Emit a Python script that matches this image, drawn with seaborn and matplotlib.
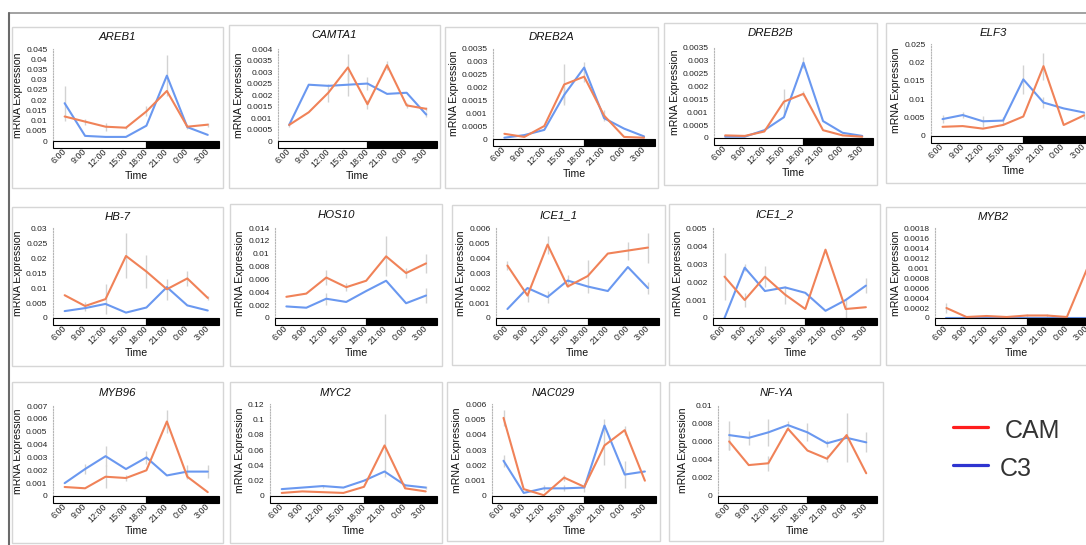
import numpy as np
import pandas as pd
import matplotlib
matplotlib.use('Agg')
import matplotlib.pyplot as plt
import matplotlib.transforms as mtransforms
from matplotlib.patches import Rectangle
from matplotlib.lines import Line2D
from matplotlib.ticker import MultipleLocator, FuncFormatter
import seaborn as sns

# ================= DATA =================
times = ["6:00", "9:00", "12:00", "15:00", "18:00", "21:00", "0:00", "3:00"]

areb1_cam = [0.012, 0.0095, 0.007, 0.0065, 0.0145, 0.0245, 0.007, 0.008]
areb1_c3 = [0.0185, 0.0025, 0.002, 0.002, 0.0075, 0.032, 0.0068, 0.003]
areb1_cam_err = [0, 0.0015, 0.002, 0.0008, 0.0025, 0, 0.001, 0.001]
areb1_c3_err = [0.0085, 0, 0, 0, 0, 0.01, 0, 0]

camta1_cam = [0.0007, 0.00125, 0.0021, 0.0032, 0.0016, 0.0033, 0.00155, 0.0014]
camta1_c3 = [0.0007, 0.00245, 0.0024, 0.00245, 0.0025, 0.00205, 0.0021, 0.00115]
camta1_cam_err = [0.0001, 0, 0.0004, 0.0006, 0.0002, 0.0002, 0.0001, 0.0001]
camta1_c3_err = [0, 0, 0, 0.0005, 0.0003, 0, 0, 0.0001]

dreb2a_cam = [0.0002, 0.00008, 0.0005, 0.0021, 0.0024, 0.0009, 0.00008, 0.00005]
dreb2a_c3 = [0.00005, 0.00015, 0.00035, 0.0017, 0.00275, 0.0008, 0.0004, 0.0001]
dreb2a_cam_err = [0, 0, 0, 0.0008, 0.0002, 0.0002, 0, 0]
dreb2a_c3_err = [0, 0, 0, 0.0003, 0.0002, 0, 0, 0]

dreb2b_cam = [0.0001, 0.00008, 0.00025, 0.0014, 0.0017, 0.0003, 0.0001, 0.00005]
dreb2b_c3 = [0.00005, 0.00005, 0.0003, 0.0008, 0.0029, 0.00065, 0.0002, 0.00008]
dreb2b_cam_err = [0, 0, 0, 0.0005, 0.0001, 0, 0, 0]
dreb2b_c3_err = [0, 0, 0, 0, 0.0002, 0, 0, 0]

elf3_cam = [0.0025, 0.0027, 0.002, 0.003, 0.0053, 0.019, 0.003, 0.0056]
elf3_c3 = [0.0046, 0.0057, 0.004, 0.0042, 0.0154, 0.0091, 0.0075, 0.0064]
elf3_cam_err = [0, 0, 0, 0, 0, 0.0037, 0, 0.001]
elf3_c3_err = [0.001, 0.0008, 0.0015, 0.001, 0.004, 0.0015, 0, 0]

hb7_cam = [0.0076, 0.004, 0.0063, 0.0207, 0.0155, 0.0096, 0.0132, 0.0067]
hb7_c3 = [0.0023, 0.0033, 0.0047, 0.0018, 0.0035, 0.0103, 0.0042, 0.0025]
hb7_cam_err = [0, 0.0015, 0.005, 0.0075, 0.0055, 0.0035, 0.0025, 0.0008]
hb7_c3_err = [0, 0, 0, 0, 0, 0, 0, 0]

hos10_cam = [0.0033, 0.0038, 0.0063, 0.0048, 0.0058, 0.0096, 0.007, 0.0085]
hos10_c3 = [0.0018, 0.0016, 0.003, 0.0025, 0.0042, 0.0058, 0.0023, 0.0035]
hos10_cam_err = [0, 0, 0.0011, 0.0006, 0, 0.0031, 0.0008, 0.0015]
hos10_c3_err = [0, 0, 0.0009, 0, 0, 0, 0, 0.0011]

ice1_1_cam = [0.0035, 0.0015, 0.0049, 0.0021, 0.0028, 0.0043, 0.0045, 0.0047]
ice1_1_c3 = [0.0006, 0.002, 0.0014, 0.0025, 0.0021, 0.0018, 0.0034, 0.002]
ice1_1_cam_err = [0.0003, 0.0004, 0.0006, 0, 0.0011, 0, 0.0006, 0.001]
ice1_1_c3_err = [0, 0, 0.0004, 0.0004, 0, 0, 0, 0.0004]

ice1_2_cam = [0.0023, 0.001, 0.0023, 0.0013, 0.0005, 0.0038, 0.0005, 0.0006]
ice1_2_c3 = [0.0, 0.0028, 0.0015, 0.0017, 0.0014, 0.0004, 0.001, 0.0018]
ice1_2_cam_err = [0.0013, 0.0004, 0.0006, 0.0005, 0, 0, 0.0005, 0]
ice1_2_c3_err = [0, 0.0002, 0, 0, 0, 0, 0, 0.0004]

myb2_cam = [0.0002, 0.00002, 0.00004, 0.00002, 0.00005, 0.00005, 0.00002, 0.00098]
myb2_c3 = [0.00001, 0.00001, 0.00001, 0.00001, 0.00001, 0.00001, 0.00001, 0.00001]
myb2_cam_err = [0.0001, 0, 0.00003, 0, 0.00003, 0.00003, 0, 0.0006]
myb2_c3_err = [0, 0, 0, 0, 0, 0, 0, 0]

myb96_cam = [0.0007, 0.0006, 0.0015, 0.0014, 0.002, 0.0058, 0.0015, 0.0003]
myb96_c3 = [0.001, 0.0021, 0.0031, 0.0021, 0.003, 0.0016, 0.0019, 0.0019]
myb96_cam_err = [0, 0, 0.0009, 0.0002, 0, 0.0009, 0.0002, 0]
myb96_c3_err = [0, 0.0004, 0.0008, 0, 0.0005, 0, 0.0005, 0.0005]

myc2_cam = [0.004, 0.006, 0.005, 0.004, 0.012, 0.066, 0.01, 0.006]
myc2_c3 = [0.009, 0.011, 0.013, 0.011, 0.02, 0.032, 0.014, 0.011]
myc2_cam_err = [0, 0, 0, 0, 0, 0.041, 0, 0]
myc2_c3_err = [0, 0, 0.002, 0, 0, 0, 0.002, 0.002]

nac029_cam = [0.0051, 0.00045, 0.00005, 0.0012, 0.0006, 0.0033, 0.0043, 0.001]
nac029_c3 = [0.0023, 0.0002, 0.0005, 0.0005, 0.00055, 0.0046, 0.0014, 0.0016]
nac029_cam_err = [0.0005, 0, 0, 0.0002, 0, 0.0013, 0.0003, 0]
nac029_c3_err = [0.0004, 0, 0.0002, 0.0002, 0.0003, 0.0004, 0.0009, 0]

nfya_cam = [0.006, 0.0034, 0.0036, 0.0074, 0.005, 0.0041, 0.0067, 0.0025]
nfya_c3 = [0.0067, 0.0064, 0.007, 0.0078, 0.007, 0.0058, 0.0064, 0.0059]
nfya_cam_err = [0.0009, 0, 0.0008, 0, 0, 0.0004, 0, 0]
nfya_c3_err = [0.0016, 0.0008, 0.0015, 0.0005, 0.001, 0.0004, 0.0027, 0.0011]

# ================= LAYOUT (pixels) =================
# name, data, box (l, t, r, b), axes (l, r, top, zero), ymax, step
panels = [
    ("AREB1", areb1_cam, areb1_c3, areb1_cam_err, areb1_c3_err, (12, 27, 223, 188), (53, 219, 49, 141), 0.045, 0.005),
    ("CAMTA1", camta1_cam, camta1_c3, camta1_cam_err, camta1_c3_err, (229, 25, 440, 188), (278, 437, 49, 141), 0.004, 0.0005),
    ("DREB2A", dreb2a_cam, dreb2a_c3, dreb2a_cam_err, dreb2a_c3_err, (445, 27, 658, 188), (493, 655, 48, 139), 0.0035, 0.0005),
    ("DREB2B", dreb2b_cam, dreb2b_c3, dreb2b_cam_err, dreb2b_c3_err, (664, 23, 877, 185), (714, 873, 47, 138), 0.0035, 0.0005),
    ("ELF3", elf3_cam, elf3_c3, elf3_cam_err, elf3_c3_err, (886, 23, 1100, 183), (931, 1095, 44, 136), 0.025, 0.005),
    ("HB-7", hb7_cam, hb7_c3, hb7_cam_err, hb7_c3_err, (12, 207, 223, 366), (53, 219, 228, 318), 0.03, 0.005),
    ("HOS10", hos10_cam, hos10_c3, hos10_cam_err, hos10_c3_err, (230, 204, 442, 366), (275, 437, 228, 318), 0.014, 0.002),
    ("ICE1_1", ice1_1_cam, ice1_1_c3, ice1_1_cam_err, ice1_1_c3_err, (452, 205, 665, 365), (496, 659, 228, 318), 0.006, 0.001),
    ("ICE1_2", ice1_2_cam, ice1_2_c3, ice1_2_cam_err, ice1_2_c3_err, (669, 204, 880, 365), (713, 877, 228, 318), 0.005, 0.001),
    ("MYB2", myb2_cam, myb2_c3, myb2_cam_err, myb2_c3_err, (886, 207, 1100, 365), (935, 1098, 228, 318), 0.0018, 0.0002),
    ("MYB96", myb96_cam, myb96_c3, myb96_cam_err, myb96_c3_err, (12, 382, 223, 543), (53, 219, 406, 496), 0.007, 0.001),
    ("MYC2", myc2_cam, myc2_c3, myc2_cam_err, myc2_c3_err, (230, 382, 442, 543), (270, 437, 404, 496), 0.12, 0.02),
    ("NAC029", nac029_cam, nac029_c3, nac029_cam_err, nac029_c3_err, (447, 382, 660, 541), (492, 656, 404, 496), 0.006, 0.001),
    ("NF-YA", nfya_cam, nfya_c3, nfya_cam_err, nfya_c3_err, (669, 382, 883, 541), (718, 877, 405, 496), 0.01, 0.002),
]

cam_color = '#F08258'
c3_color = '#6A98F0'

sns.set_style('white')
plt.rcParams['font.family'] = ['Liberation Sans', 'DejaVu Sans']

W, H = 1086, 545
fig = plt.figure(figsize=(W / 100, H / 100), dpi=100)
fig.patch.set_facecolor('white')

# outer frame of the screenshot
fig.add_artist(Line2D([9 / W, 1], [1 - 12.5 / H] * 2, transform=fig.transFigure, color='#9a9a9a', lw=1.3))
fig.add_artist(Line2D([9 / W] * 2, [0, 1 - 12.5 / H], transform=fig.transFigure, color='#6a6a6a', lw=1.5))

fmt = FuncFormatter(lambda v, p: format(round(v, 7), 'g'))

for name, cam, c3, cam_err, c3_err, box, axpx, ymax, step in panels:
    bl, bt, br, bb = box
    fig.add_artist(Rectangle((bl / W, 1 - bb / H), (br - bl) / W, (bb - bt) / H,
                             transform=fig.transFigure, fill=False, ec='#d6d6d6', lw=1))
    fig.text((bl + br) / 2 / W, 1 - (bt + 10.5) / H, name, ha='center', va='center',
             fontsize=8.2, fontstyle='italic', color='#111')

    al, ar, at, az = axpx
    ax = fig.add_axes([al / W, 1 - az / H, (ar - al) / W, (az - at) / H])

    df = pd.DataFrame({
        'Time': times * 2,
        'mRNA Expression': c3 + cam,
        'Line': ['C3'] * len(times) + ['CAM'] * len(times),
    })
    sns.lineplot(data=df, x='Time', y='mRNA Expression', hue='Line', hue_order=['C3', 'CAM'],
                 palette={'C3': c3_color, 'CAM': cam_color}, sort=False, legend=False,
                 errorbar=None, linewidth=1.5, ax=ax, zorder=3)
    ax.errorbar(times, c3, yerr=c3_err, fmt='none', ecolor='#d2d2d2', elinewidth=1, capsize=0, zorder=1)
    ax.errorbar(times, cam, yerr=cam_err, fmt='none', ecolor='#d2d2d2', elinewidth=1, capsize=0, zorder=1)

    ax.set_xlim(-0.57, 7.55)
    ax.set_ylim(0, ymax * 1.001)
    ax.yaxis.set_major_locator(MultipleLocator(step))
    ax.yaxis.set_major_formatter(fmt)

    # light / dark bar under the axis
    trans = mtransforms.blended_transform_factory(ax.transData, ax.transAxes)
    ax.add_patch(Rectangle((-0.57, -0.078), 4.57, 0.078, transform=trans, fc='white',
                           ec='black', lw=0.8, clip_on=False, zorder=4))
    ax.add_patch(Rectangle((4, -0.078), 3.55, 0.078, transform=trans, fc='black',
                           ec='black', lw=0.8, clip_on=False, zorder=4))

    for s in ['top', 'right', 'bottom']:
        ax.spines[s].set_visible(False)
    ax.spines['left'].set_color('#b5b5b5')
    ax.spines['left'].set_linestyle((0, (1, 1.5)))
    ax.spines['left'].set_linewidth(0.8)
    ax.tick_params(axis='y', length=2, width=0.6, color='#b5b5b5', labelsize=6.0, pad=2, labelcolor='#222')
    ax.tick_params(axis='x', length=0, labelsize=6.4, pad=6.5, labelcolor='#222', labelrotation=45)
    plt.setp(ax.get_xticklabels(), ha='right', va='center', rotation_mode='anchor')
    ax.set_xlabel('Time', fontsize=7.6, labelpad=1.5, color='#111')
    ax.set_ylabel('mRNA Expression', fontsize=7.6, labelpad=2, color='#111')
    ax.set_facecolor('none')

# legend
fig.add_artist(Line2D([953 / W, 988 / W], [1 - 427 / H] * 2, transform=fig.transFigure, color='#FF1E1E', lw=2.3))
fig.add_artist(Line2D([953 / W, 988 / W], [1 - 465 / H] * 2, transform=fig.transFigure, color='#2E34D0', lw=2.3))
fig.text(1005 / W, 1 - 431 / H, 'CAM', fontsize=18, va='center', ha='left', color='#333')
fig.text(1000 / W, 1 - 469 / H, 'C3', fontsize=18, va='center', ha='left', color='#333')

fig.savefig('out.png', dpi=100)
